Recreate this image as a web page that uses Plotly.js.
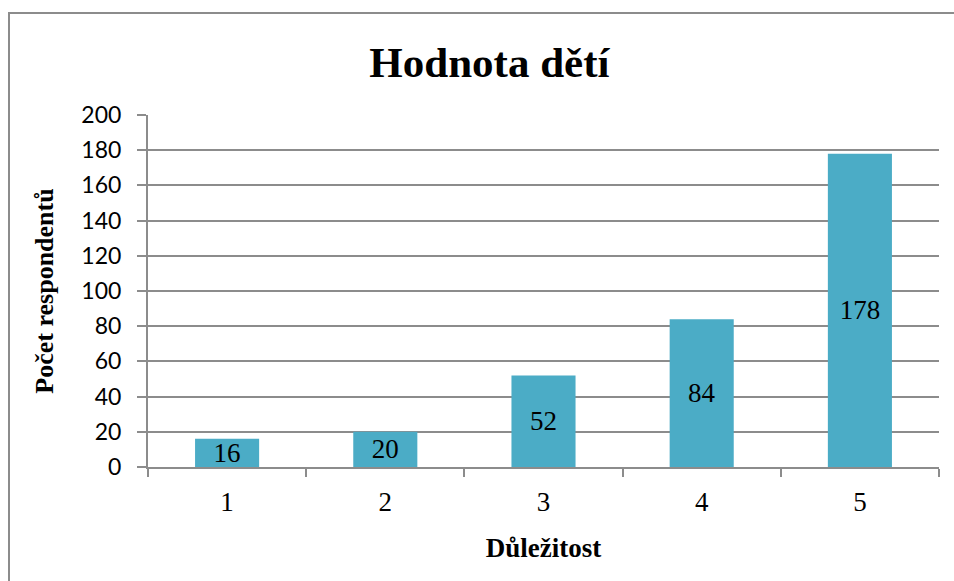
<!DOCTYPE html>
<html>
<head>
<meta charset="utf-8">
<script src="https://cdn.plot.ly/plotly-3.0.1.min.js"></script>
<style>
html,body{margin:0;padding:0;background:#fff;overflow:hidden;}
#frame{position:absolute;left:8px;top:12px;width:1000px;height:700px;border-left:2px solid #8c8c8c;border-top:2px solid #8c8c8c;box-sizing:border-box;pointer-events:none;z-index:10;}
#chart{position:absolute;left:0;top:0;width:954px;height:581px;}
</style>
</head>
<body>
<div id="chart"></div>
<div id="frame"></div>
<script>
const categories = ["1", "2", "3", "4", "5"];
const counts = [16, 20, 52, 84, 178];
const yTicks = [0, 20, 40, 60, 80, 100, 120, 140, 160, 180, 200];

const serif = "Liberation Serif, Times New Roman, serif";
const gridCol = "#8c8c8c";

const trace = {
  type: "bar",
  x: categories,
  y: counts,
  text: counts.map(String),
  textposition: "inside",
  insidetextanchor: "middle",
  constraintext: "none",
  textangle: 0,
  textfont: {family: serif, size: 27, color: "#000"},
  marker: {color: "#4bacc6"},
  width: 0.405,
  hoverinfo: "x+y"
};

const layout = {
  width: 954,
  height: 581,
  margin: {l: 148, r: 15, t: 115, b: 114},
  paper_bgcolor: "#fff",
  plot_bgcolor: "#fff",
  showlegend: false,
  title: {
    text: "<b>Hodnota dětí</b>",
    font: {family: serif, size: 43, color: "#000"},
    xref: "container", x: 0.513, xanchor: "center",
    yref: "container", y: 1 - 62/581, yanchor: "middle"
  },
  xaxis: {
    type: "category",
    tickson: "boundaries",
    ticks: "outside",
    ticklen: 8,
    tickwidth: 2,
    tickcolor: gridCol,
    showline: true,
    linecolor: gridCol,
    linewidth: 2,
    showgrid: false,
    ticklabelstandoff: 10,
    tickfont: {family: serif, size: 27, color: "#000"},
    title: {text: "<b>Důležitost</b>", font: {family: serif, size: 27, color: "#000"}, standoff: 22}
  },
  yaxis: {
    range: [0, 200],
    tickvals: yTicks,
    ticktext: yTicks.map(String),
    ticks: "outside",
    ticklen: 9,
    tickwidth: 2,
    tickcolor: gridCol,
    showline: true,
    linecolor: gridCol,
    linewidth: 2,
    showgrid: true,
    gridcolor: gridCol,
    gridwidth: 2,
    zeroline: false,
    ticklabelstandoff: 11,
    tickfont: {family: "Lato, Carlito, Liberation Sans, sans-serif", size: 23, color: "#000"},
    title: {text: "<b>Počet respondentů</b>", font: {family: serif, size: 26, color: "#000"}, standoff: 20}
  }
};

Plotly.newPlot("chart", [trace], layout, {displayModeBar: false, staticPlot: true});
</script>
</body>
</html>
